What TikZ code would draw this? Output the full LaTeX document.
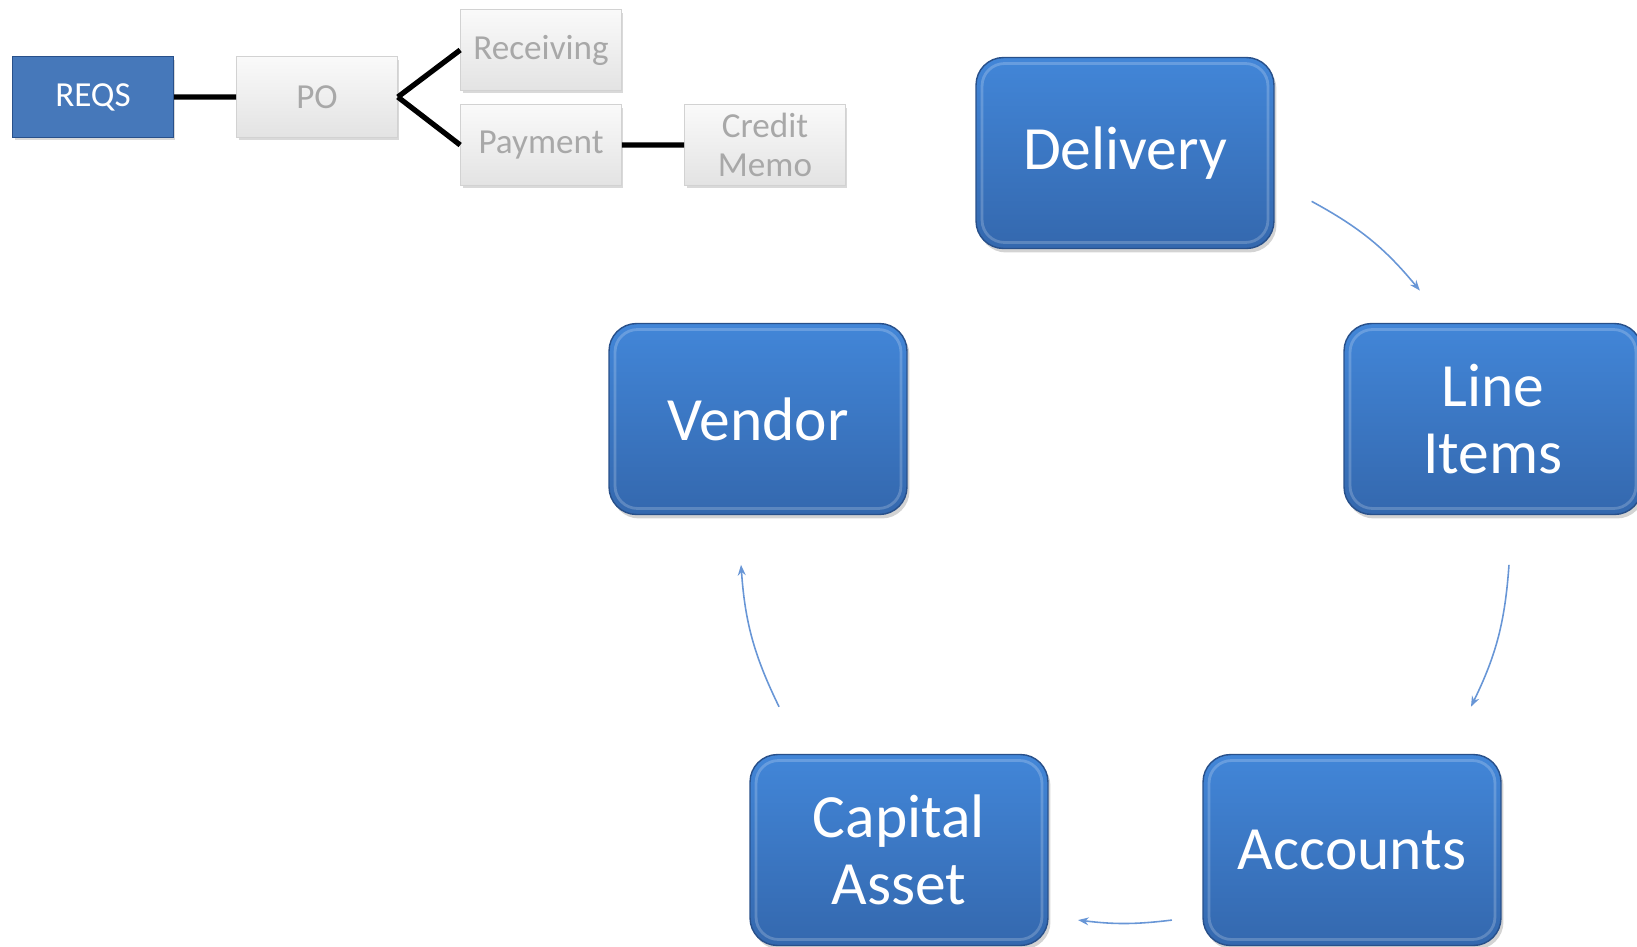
\documentclass[tikz,border=0pt]{standalone}
\usepackage{fontspec}
\setmainfont{Carlito}
\usetikzlibrary{arrows.meta,shadows,calc}

\definecolor{boxbluetop}{RGB}{66,134,216}
\definecolor{boxbluebot}{RGB}{52,104,174}
\definecolor{boxedge}{RGB}{40,80,138}
\definecolor{reqsblue}{RGB}{70,120,186}
\definecolor{greytext}{RGB}{168,168,168}
\definecolor{arrowblue}{RGB}{104,150,214}

\tikzset{
  bigbox/.style={rectangle, rounded corners=0.55cm, minimum width=5.96cm, minimum height=3.82cm,
    top color=boxbluetop, bottom color=boxbluebot, draw=boxedge, line width=0.8pt,
    text=white, align=center, font=\fontsize{35}{38}\selectfont,
    drop shadow={shadow xshift=0.05cm, shadow yshift=-0.08cm, opacity=0.35},
    path picture={\draw[white, opacity=0.2, line width=1.6pt, rounded corners=0.45cm]
      ([shift={(0.12cm,-0.12cm)}]path picture bounding box.north west) rectangle
      ([shift={(-0.12cm,0.12cm)}]path picture bounding box.south east);}},
  smallbox/.style={rectangle, minimum width=3.22cm, minimum height=1.62cm, align=center,
    font=\fontsize{20}{22}\selectfont,
    drop shadow={shadow xshift=0.04cm, shadow yshift=-0.06cm, opacity=0.3}},
  greybox/.style={smallbox, top color=gray!4, bottom color=gray!22, draw=gray!35, text=greytext},
  reqsbox/.style={smallbox, fill=reqsblue, draw=boxedge, line width=0.8pt, text=white},
  link/.style={line width=3pt},
  cyc/.style={arrowblue, line width=0.9pt, -{Stealth[length=6pt,width=4.5pt]}, bend left=11},
}

\begin{document}
\begin{tikzpicture}[x=0.02cm, y=-0.02cm]
    \useasboundingbox (0,0) rectangle (1637,947);

    % process chain
    \node[reqsbox] (reqs) at (93,97) {REQS};
    \node[greybox] (po) at (317,97) {PO};
    \node[greybox] (recv) at (541,50) {Receiving};
    \node[greybox] (pay) at (541,145) {Payment};
    \node[greybox] (memo) at (765,145) {Credit\\Memo};

    \draw[link]
    (reqs.east) -- (po.west)
    (po.east) -- (recv.west)
    (po.east) -- (pay.west)
    (pay.east) -- (memo.west);

    % cycle
    \node[bigbox] (deliv) at (1125,153) {Delivery};
    \node[bigbox] (items) at (1493,419) {Line\\Items};
    \node[bigbox] (accts) at (1352,850) {Accounts};
    \node[bigbox] (asset) at (899,850) {Capital\\Asset};
    \node[bigbox] (vendor) at (758,419) {Vendor};

    \coordinate (hub) at (1125,538);
    \path (hub)
    ++(61:7.7cm) coordinate (a1) (hub) ++(40:7.7cm) coordinate (a2)
    (hub) ++(-4:7.7cm) coordinate (b1) (hub) ++(-26:7.7cm) coordinate (b2)
    (hub) ++(-83:7.7cm) coordinate (c1) (hub) ++(-97:7.7cm) coordinate (c2)
    (hub) ++(-154:7.7cm) coordinate (e1) (hub) ++(-176:7.7cm) coordinate (e2);

    \draw[cyc] (a1) to (a2);
    \draw[cyc] (b1) to (b2);
    \draw[cyc, bend left=7] (c1) to (c2);
    \draw[cyc] (e1) to (e2);
\end{tikzpicture}
\end{document}
